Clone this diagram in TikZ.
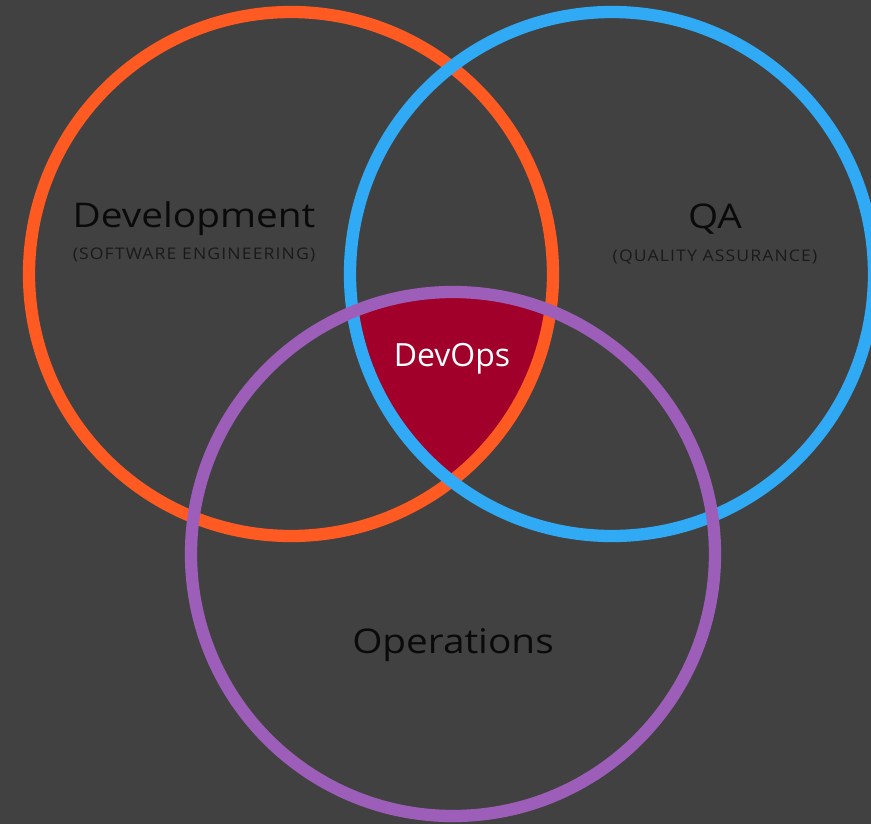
\documentclass[tikz,border=0pt]{standalone}
\usepackage{fontspec}
\setmainfont{Open Sans}
\newfontfamily\labelfont[FakeStretch=1.14]{Open Sans}
\newfontfamily\capsfont[LetterSpace=7,FakeStretch=1.1]{Open Sans}
\usepackage{tikz}
\definecolor{bgGrey}{HTML}{414141}
\definecolor{devOrange}{HTML}{FF5A22}
\definecolor{qaBlue}{HTML}{30AAF5}
\definecolor{opsPurple}{HTML}{9C5EB8}
\definecolor{devopsRed}{HTML}{A0002A}
\definecolor{inkBlack}{HTML}{0A0A0A}
\definecolor{subGrey}{HTML}{1A1A1A}
\tikzset{
	ring/.style={line width=9.2pt},
	title/.style={inner sep=0pt,text=inkBlack,font=\labelfont\fontsize{25.5}{30}\selectfont},
	subtitle/.style={inner sep=0pt,text=subGrey,font=\capsfont\fontsize{12}{14}\selectfont}
}
\newcommand{\rad}{262}
\begin{document}
\begin{tikzpicture}[x=0.75pt,y=-0.75pt]
	\fill[bgGrey] (0,0) rectangle (871,824);
	\useasboundingbox (0,0) rectangle (871,824);
	\coordinate (dev) at (291,274);
	\coordinate (qa) at (612,274);
	\coordinate (ops) at (453,554);
	% the common part
	\begin{scope}
		\clip (dev) circle[radius=\rad];
		\clip (qa) circle[radius=\rad];
		\fill[devopsRed] (ops) circle[radius=\rad];
	\end{scope}
	\draw[ring,devOrange] (dev) circle[radius=\rad];
	\draw[ring,qaBlue] (qa) circle[radius=\rad];
	\draw[ring,opsPurple] (ops) circle[radius=\rad];
	% labels
	\node[title,anchor=base] (devtitle) at (194,227) {Development};
	\node[subtitle,anchor=base] (devsub) at (194,259) {(SOFTWARE ENGINEERING)};
	\node[title,anchor=base] (qatitle) at (715,228) {QA};
	\node[subtitle,anchor=base] (qasub) at (715,261) {(QUALITY ASSURANCE)};
	\node[inner sep=0pt,anchor=base,text=white,font=\fontsize{24}{28}\selectfont] (devops) at (452,366) {DevOps};
	\node[title,anchor=base] (opstitle) at (453,653) {Operations};
\end{tikzpicture}
\end{document}
